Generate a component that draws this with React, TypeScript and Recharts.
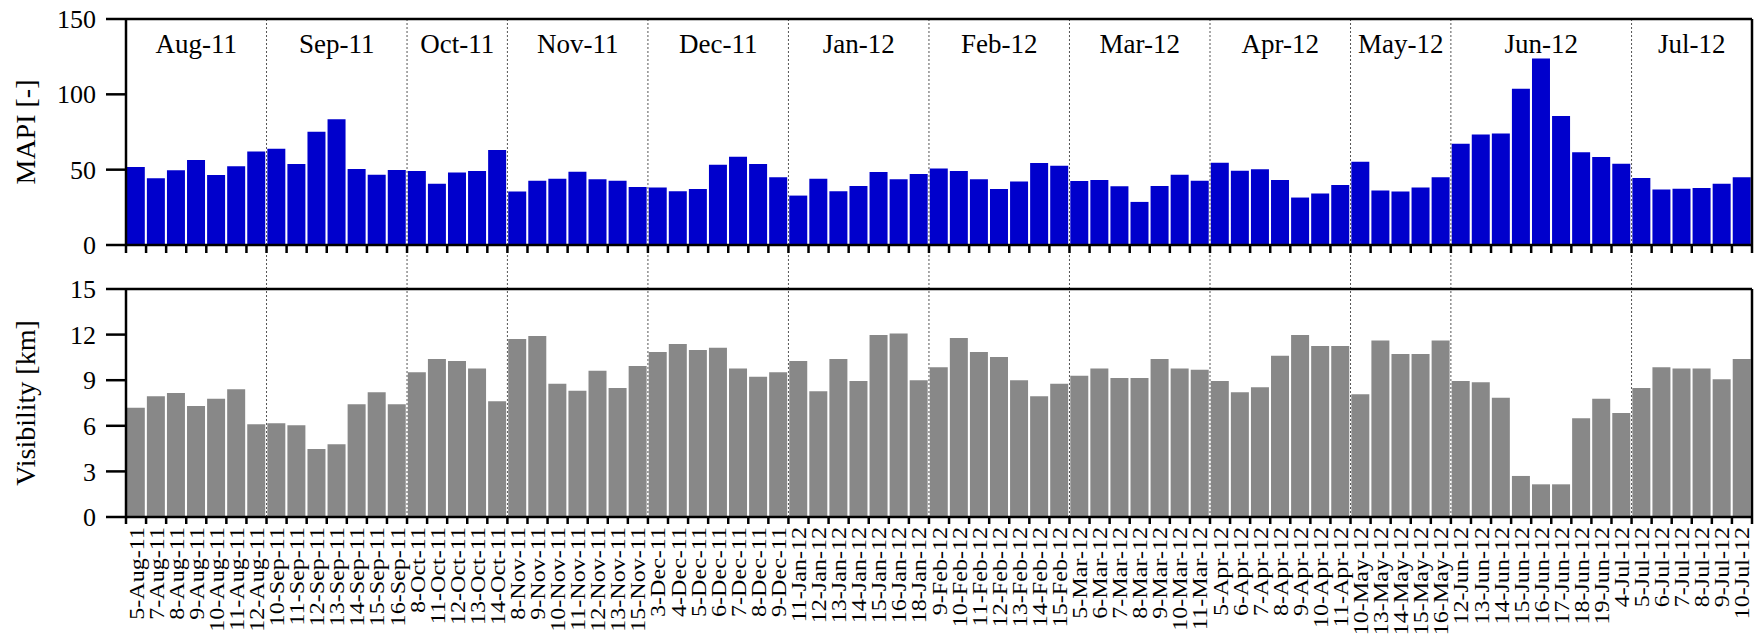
import React from 'react';
import { BarChart, Bar, XAxis, YAxis, ReferenceLine, ReferenceArea, Label } from 'recharts';

const FONT = "'Liberation Serif', 'Times New Roman', serif";

const dates = [
  '5-Aug-11', '7-Aug-11', '8-Aug-11', '9-Aug-11', '10-Aug-11', '11-Aug-11', '12-Aug-11',
  '10-Sep-11', '11-Sep-11', '12-Sep-11', '13-Sep-11', '14-Sep-11', '15-Sep-11', '16-Sep-11',
  '8-Oct-11', '11-Oct-11', '12-Oct-11', '13-Oct-11', '14-Oct-11',
  '8-Nov-11', '9-Nov-11', '10-Nov-11', '11-Nov-11', '12-Nov-11', '13-Nov-11', '15-Nov-11',
  '3-Dec-11', '4-Dec-11', '5-Dec-11', '6-Dec-11', '7-Dec-11', '8-Dec-11', '9-Dec-11',
  '11-Jan-12', '12-Jan-12', '13-Jan-12', '14-Jan-12', '15-Jan-12', '16-Jan-12', '18-Jan-12',
  '9-Feb-12', '10-Feb-12', '11-Feb-12', '12-Feb-12', '13-Feb-12', '14-Feb-12', '15-Feb-12',
  '5-Mar-12', '6-Mar-12', '7-Mar-12', '8-Mar-12', '9-Mar-12', '10-Mar-12', '11-Mar-12',
  '5-Apr-12', '6-Apr-12', '7-Apr-12', '8-Apr-12', '9-Apr-12', '10-Apr-12', '11-Apr-12',
  '10-May-12', '13-May-12', '14-May-12', '15-May-12', '16-May-12',
  '12-Jun-12', '13-Jun-12', '14-Jun-12', '15-Jun-12', '16-Jun-12', '17-Jun-12', '18-Jun-12', '19-Jun-12',
  '4-Jul-12', '5-Jul-12', '6-Jul-12', '7-Jul-12', '8-Jul-12', '9-Jul-12', '10-Jul-12',
];

const mapi = [
  51.8, 44.3, 49.6, 56.4, 46.5, 52.2, 62.1,
  63.9, 53.7, 75.1, 83.5, 50.4, 46.7, 49.8,
  49.1, 40.7, 48.2, 49.1, 63.0,
  35.5, 42.7, 44.0, 48.7, 43.6, 42.7, 38.5,
  38.1, 35.7, 37.2, 53.3, 58.6, 53.7, 44.9,
  32.8, 44.0, 35.7, 39.2, 48.5, 43.6, 47.1,
  50.7, 49.1, 43.6, 37.2, 42.1, 54.4, 52.6,
  42.5, 43.2, 39.0, 28.6, 39.2, 46.7, 42.7,
  54.6, 49.3, 50.2, 43.2, 31.5, 34.1, 39.9,
  55.3, 36.1, 35.5, 38.1, 44.9,
  67.2, 73.3, 74.0, 103.7, 123.8, 85.7, 61.5, 58.4, 54.0,
  44.5, 36.8, 37.4, 37.9, 40.7, 44.9,
];

const visibility = [
  7.18, 7.95, 8.15, 7.31, 7.78, 8.41, 6.1,
  6.17, 6.04, 4.48, 4.79, 7.42, 8.21, 7.42,
  9.53, 10.39, 10.26, 9.77, 7.62,
  11.71, 11.9, 8.76, 8.3, 9.62, 8.48, 9.93,
  10.85, 11.38, 10.98, 11.14, 9.77, 9.22, 9.53,
  10.26, 8.28, 10.39, 8.94, 11.97, 12.08, 9.0,
  9.86, 11.77, 10.85, 10.52, 9.0, 7.95, 8.76,
  9.29, 9.77, 9.14, 9.14, 10.39, 9.77, 9.69,
  8.94, 8.21, 8.54, 10.61, 11.97, 11.25, 11.25,
  8.08, 11.62, 10.72, 10.72, 11.62,
  8.94, 8.87, 7.84, 2.7, 2.15, 2.15, 6.5, 7.78, 6.85,
  8.48, 9.86, 9.77, 9.77, 9.07, 10.39,
];

const monthLabels = ['Aug-11', 'Sep-11', 'Oct-11', 'Nov-11', 'Dec-11', 'Jan-12', 'Feb-12', 'Mar-12', 'Apr-12', 'May-12', 'Jun-12', 'Jul-12'];
const monthFirst = ['5-Aug-11', '10-Sep-11', '8-Oct-11', '8-Nov-11', '3-Dec-11', '11-Jan-12', '9-Feb-12', '5-Mar-12', '5-Apr-12', '10-May-12', '12-Jun-12', '5-Jul-12'];
const monthLast = ['12-Aug-11', '16-Sep-11', '14-Oct-11', '15-Nov-11', '9-Dec-11', '18-Jan-12', '15-Feb-12', '11-Mar-12', '11-Apr-12', '16-May-12', '4-Jul-12', '10-Jul-12'];

const mapiTicks = [0, 50, 100, 150];
const visTicks = [0, 3, 6, 9, 12, 15];

const data = dates.map((d, i) => ({ date: d, mapi: mapi[i], vis: visibility[i] }));

const W = 1755;
const PLOT_LEFT = 126;
const PLOT_RIGHT = 1752;
const HALF = (PLOT_RIGHT - PLOT_LEFT) / dates.length / 2;
const AX = { stroke: '#000', strokeWidth: 2.5 };
const DIV = { stroke: '#555', strokeWidth: 1, strokeDasharray: '2 2' };

function TopTick(props: any) {
  const { x, y, index } = props;
  return (
    <g>
      <line x1={x - HALF} x2={x - HALF} y1={y} y2={y + 8} stroke="#000" strokeWidth={2.5} />
      {index === dates.length - 1 && (
        <line x1={x + HALF} x2={x + HALF} y1={y} y2={y + 8} stroke="#000" strokeWidth={2.5} />
      )}
    </g>
  );
}

function BottomTick(props: any) {
  const { x, y, index, payload } = props;
  const ty = y + 10;
  return (
    <g>
      <line x1={x - HALF} x2={x - HALF} y1={y} y2={y + 7} stroke="#000" strokeWidth={2.5} />
      {index === dates.length - 1 && (
        <line x1={x + HALF} x2={x + HALF} y1={y} y2={y + 7} stroke="#000" strokeWidth={2.5} />
      )}
      <text
        x={0}
        y={0}
        dy="0.35em"
        transform={`translate(${x} ${ty}) rotate(-90) scale(1.12 1)`}
        textAnchor="end"
        fontSize={21.5}
        fontFamily={FONT}
        fill="#000"
      >
        {payload.value}
      </text>
    </g>
  );
}

function YTick(props: any) {
  const { x, y, payload } = props;
  return (
    <text x={x} y={y} dy="0.35em" textAnchor="end" fontSize={26} fontFamily={FONT} fill="#000">
      {payload.value}
    </text>
  );
}

function yTitle(text: string) {
  return (props: any) => {
    const vb = props.viewBox || { x: 0, y: 0, height: 0 };
    const cx = vb.x + 25;
    const cy = vb.y + vb.height / 2;
    return (
      <text x={cx} y={cy} dy="0.35em" transform={`rotate(-90 ${cx} ${cy})`} textAnchor="middle" fontSize={28} fontFamily={FONT} fill="#000">
        {text}
      </text>
    );
  };
}

export default function App() {
  return (
    <div style={{ position: 'absolute', left: 0, top: 0, width: W, height: 638, background: '#fff', fontFamily: FONT, overflow: 'hidden' }}>
      <style>{`.recharts-wrapper text { font-family: 'Liberation Serif', 'Times New Roman', serif; }`}</style>
      <div style={{ position: 'absolute', left: 0, top: 0 }}>
        <BarChart width={W} height={290} data={data} margin={{ top: 19, right: W - PLOT_RIGHT, bottom: 0, left: 0 }} barCategoryGap="4%">
          <XAxis dataKey="date" interval={0} height={45} tickLine={false} tickSize={0} tickMargin={0} axisLine={AX} tick={(p: any) => <TopTick {...p} />} />
          <YAxis
            width={PLOT_LEFT}
            domain={[0, 150]}
            ticks={mapiTicks}
            tickSize={20}
            tickMargin={10}
            axisLine={AX}
            tickLine={AX}
            tick={(p: any) => <YTick {...p} />}
          >
            <Label position="insideLeft" content={yTitle('MAPI [-]')} />
          </YAxis>
          {monthLabels.map((m, i) => (
            <ReferenceArea key={m} x1={monthFirst[i]} x2={monthLast[i]} fillOpacity={0} strokeOpacity={0} ifOverflow="visible">
              <Label value={m} position="insideTop" offset={15} style={{ fontSize: 27, fontFamily: FONT, fill: '#000' }} />
            </ReferenceArea>
          ))}
          <Bar dataKey="mapi" fill="#0000CC" isAnimationActive={false} />
          {monthFirst.slice(1).map((d) => (
            <ReferenceLine key={d} segment={[{ x: d, y: 150 }, { x: d, y: -29.2 }]} position="start" ifOverflow="visible" {...DIV} />
          ))}
          <ReferenceLine y={150} {...AX} />
          <ReferenceLine x={dates[dates.length - 1]} position="end" ifOverflow="visible" {...AX} />
        </BarChart>
      </div>
      <div style={{ position: 'absolute', left: 0, top: 240 }}>
        <BarChart width={W} height={398} data={data} margin={{ top: 49, right: W - PLOT_RIGHT, bottom: 0, left: 0 }} barCategoryGap="4%">
          <XAxis dataKey="date" interval={0} height={121} tickLine={false} tickSize={0} tickMargin={0} axisLine={AX} tick={(p: any) => <BottomTick {...p} />} />
          <YAxis
            width={PLOT_LEFT}
            domain={[0, 15]}
            ticks={visTicks}
            tickSize={20}
            tickMargin={10}
            axisLine={AX}
            tickLine={AX}
            tick={(p: any) => <YTick {...p} />}
          >
            <Label position="insideLeft" content={yTitle('Visibility [km]')} />
          </YAxis>
          <Bar dataKey="vis" fill="#888888" isAnimationActive={false} />
          {monthFirst.slice(1).map((d) => (
            <ReferenceLine key={d} x={d} position="start" {...DIV} />
          ))}
          <ReferenceLine y={15} {...AX} />
          <ReferenceLine x={dates[dates.length - 1]} position="end" ifOverflow="visible" {...AX} />
        </BarChart>
      </div>
    </div>
  );
}
